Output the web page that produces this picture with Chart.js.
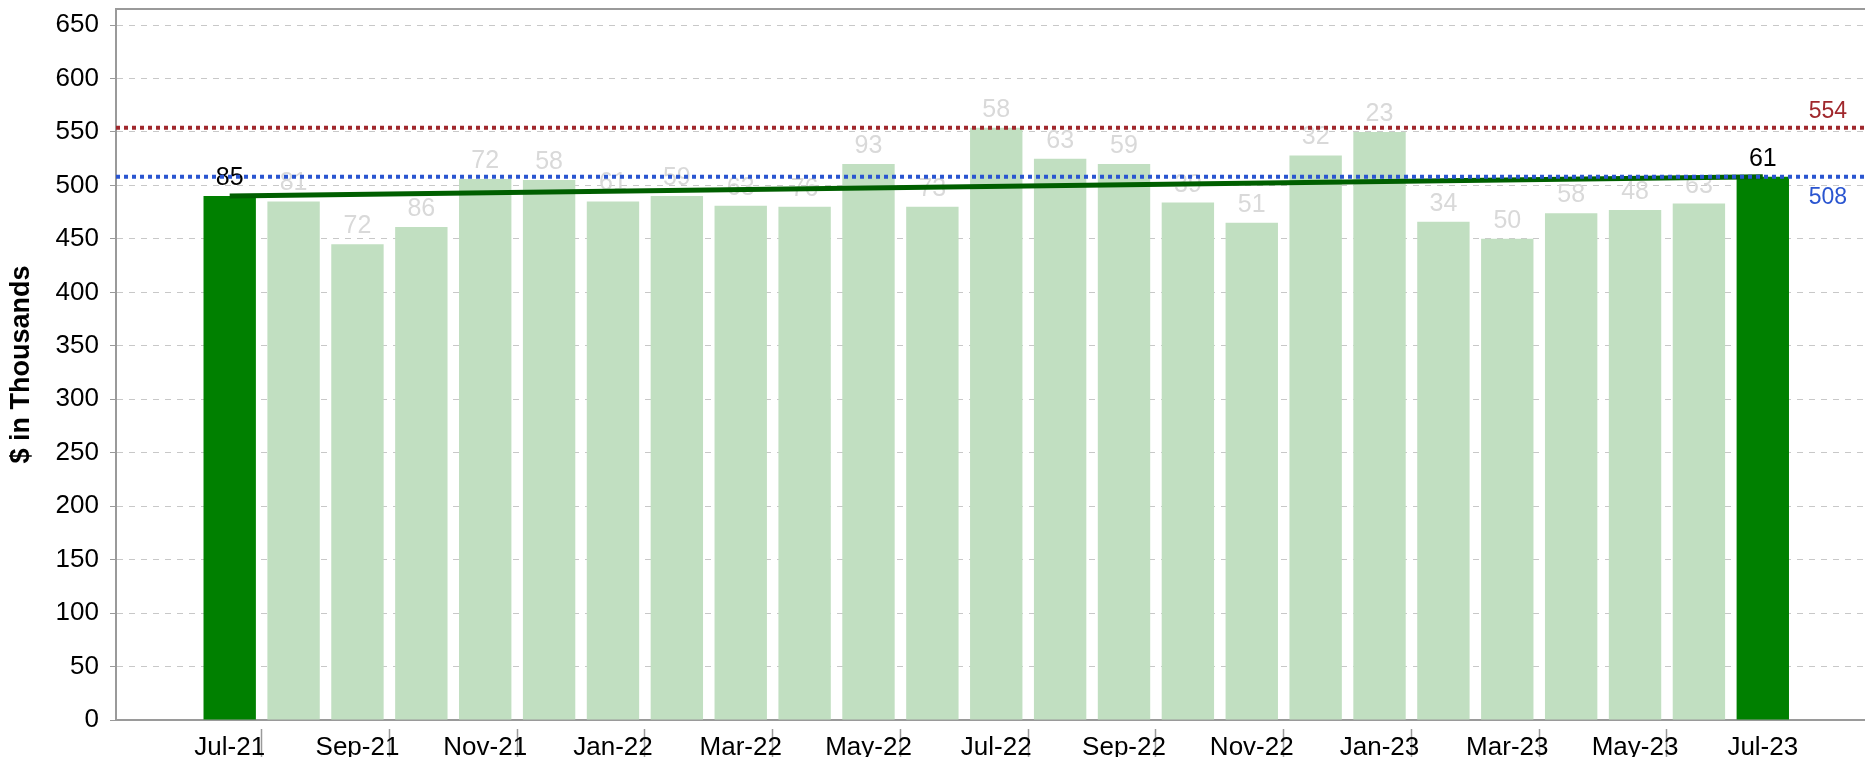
<!DOCTYPE html>
<html>
<head>
<meta charset="utf-8">
<script src="https://cdn.jsdelivr.net/npm/chart.js@4.4.0/dist/chart.umd.min.js"></script>
<style>
body{margin:0;background:#fff;}
#wrap{width:1865px;height:757px;position:relative;}
</style>
</head>
<body>
<div id="wrap"><canvas id="graph"></canvas></div>
<script>
const months = ['Jul-21','Aug-21','Sep-21','Oct-21','Nov-21','Dec-21','Jan-22','Feb-22','Mar-22','Apr-22','May-22','Jun-22',
    'Jul-22','Aug-22','Sep-22','Oct-22','Nov-22','Dec-22','Jan-23','Feb-23','Mar-23','Apr-23','May-23','Jun-23','Jul-23'];
const amounts = [490,485,445,461,506,505,485,490,481,480,520,480,554,525,520,484,465,528,550,466,450,474,477,483,508];
const barLabels = ['85','81','72','86','72','58','61','59','63','76','93','73','58','63','59','39','51','32','23','34','50','58','48','63','61'];
const trendStart = 490;
const trendEnd = 508;
const highLine = 554;
const lastLine = 508;
const yMax = 665;
const yStep = 50;

const xMin = -1.78;
const xMax = 25.6;
const FONT = "'Liberation Sans', Arial, sans-serif";
const last = months.length - 1;

const barLabelPlugin = {
    id: 'barLabels',
    afterDatasetDraw(chart, args){
        if(args.index !== 0) return;
        const c = chart.ctx;
        c.save();
        c.font = '25px ' + FONT;
        c.textAlign = 'center';
        c.textBaseline = 'alphabetic';
        args.meta.data.forEach((el, i) => {
            c.fillStyle = (i === 0 || i === last) ? '#000' : '#d9d9d9';
            c.fillText(barLabels[i], el.x, el.y - 11);
        });
        c.restore();
    }
};

const lineLabelPlugin = {
    id: 'lineLabels',
    afterDatasetsDraw(chart){
        const c = chart.ctx;
        const y = chart.scales.y;
        const right = chart.chartArea.right - 18;
        c.save();
        c.font = '23px ' + FONT;
        c.textAlign = 'right';
        c.textBaseline = 'alphabetic';
        c.fillStyle = '#a0282d';
        c.fillText(String(highLine), right, y.getPixelForValue(highLine) - 10);
        c.fillStyle = '#2a55d0';
        c.fillText(String(lastLine), right, y.getPixelForValue(lastLine) + 27);
        c.restore();
    }
};

const config = {
    type: 'bar',
    data: {
        datasets: [
            {
                type: 'bar',
                data: amounts.map((v, i) => ({x: i, y: v})),
                backgroundColor: months.map((m, i) => (i === 0 || i === last) ? '#008000' : '#c1dfc1'),
                categoryPercentage: 1,
                barPercentage: 0.82,
                order: 4
            },
            {
                type: 'line',
                data: [{x: 0, y: trendStart}, {x: last, y: trendEnd}],
                borderColor: '#005f00',
                borderWidth: 5,
                pointRadius: 0,
                order: 3
            },
            {
                type: 'line',
                data: [{x: xMin, y: highLine}, {x: xMax, y: highLine}],
                borderColor: '#a0282d',
                borderWidth: 4,
                borderDash: [4, 4],
                pointRadius: 0,
                order: 2
            },
            {
                type: 'line',
                data: [{x: xMin, y: lastLine}, {x: xMax, y: lastLine}],
                borderColor: '#2a55d0',
                borderWidth: 4,
                borderDash: [4, 4],
                pointRadius: 0,
                order: 1
            }
        ]
    },
    options: {
        responsive: true,
        maintainAspectRatio: false,
        animation: false,
        layout: {padding: {top: 9, left: 0, right: 0, bottom: 0}},
        plugins: {
            legend: {display: false},
            tooltip: {enabled: false}
        },
        scales: {
            x: {
                type: 'linear',
                position: 'bottom',
                min: xMin,
                max: xMax,
                offset: false,
                afterBuildTicks: (axis) => { axis.ticks = months.map((m, i) => ({value: i})); },
                afterFit: (axis) => { axis.height = 37; axis.paddingLeft = 0; axis.paddingRight = 0; },
                ticks: {
                    autoSkip: false,
                    maxRotation: 0,
                    color: '#000',
                    padding: -25,
                    font: {family: FONT, size: 26},
                    callback: (value, index) => index % 2 === 0 ? months[value] : ''
                },
                grid: {
                    drawOnChartArea: false,
                    drawTicks: true,
                    tickLength: 37,
                    tickWidth: 1.5,
                    tickColor: (c) => c.index % 2 === 1 ? '#9a9a9a' : 'rgba(0,0,0,0)',
                    tickBorderDash: [29, 8],
                    tickBorderDashOffset: 29
                },
                border: {color: '#9a9a9a', width: 2}
            },
            xTop: {
                type: 'linear',
                position: 'top',
                min: xMin,
                max: xMax,
                afterFit: (axis) => { axis.height = 0; axis.paddingLeft = 0; axis.paddingRight = 0; },
                ticks: {display: false},
                grid: {display: false, drawTicks: false},
                border: {color: '#9a9a9a', width: 2}
            },
            y: {
                min: 0,
                max: yMax,
                afterFit: (axis) => { axis.width = 116; axis.paddingTop = 0; axis.paddingBottom = 0; },
                ticks: {
                    stepSize: yStep,
                    includeBounds: false,
                    color: '#000',
                    padding: 11,
                    font: {family: FONT, size: 26}
                },
                grid: {
                    color: '#c8c8c8',
                    lineWidth: 1,
                    tickLength: 6,
                    tickColor: '#9a9a9a',
                    tickBorderDash: []
                },
                border: {color: '#9a9a9a', width: 2, dash: [6, 6]},
                title: {
                    display: true,
                    text: '$ in Thousands',
                    color: '#000',
                    padding: {top: 5, bottom: 0},
                    font: {family: FONT, size: 27, weight: 'bold'}
                }
            }
        }
    },
    plugins: [barLabelPlugin, lineLabelPlugin]
};

const ctx = document.getElementById('graph');
var chart = new Chart(ctx, config);
</script>
</body>
</html>
